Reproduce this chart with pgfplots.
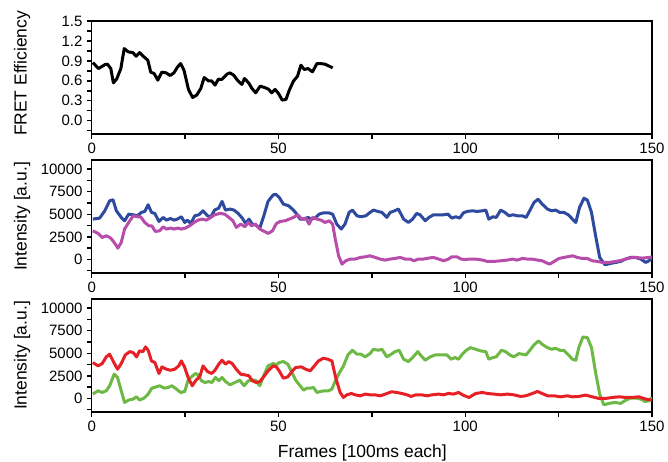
\documentclass[border=0pt]{standalone}
\usepackage{pgfplots}
\pgfplotsset{compat=1.18}
\usepackage{fontspec}
\setmainfont{Liberation Sans}
\definecolor{cblue}{RGB}{46,74,158}
\definecolor{cmag}{RGB}{184,76,170}
\definecolor{cred}{RGB}{230,32,36}
\definecolor{cgreen}{RGB}{110,184,70}
\pgfplotsset{
 panel/.style={
  scale only axis, width=420.2pt, height=84.75pt,
  xmin=0, xmax=150, xtick={0,50,100,150}, minor xtick={25,75,125},
  axis line style={line width=1.1pt},
  tick align=outside, tick pos=left,
  major tick length=3.4pt, minor tick length=3.4pt,
  major tick style={line width=1.1pt, black},
  minor tick style={line width=1.1pt, black},
  tick label style={font=\fontsize{11.25}{13}\selectfont},
  label style={font=\fontsize{13.1}{15}\selectfont},
  scaled ticks=false,
  /pgf/number format/assume math mode=true,
  /pgf/number format/1000 sep={},
  ylabel style={at={(axis description cs:-0.116,0.5)}, anchor=base},
  every axis plot/.append style={line width=2.25pt, line join=round, mark=none},
 },
 intens/.style={panel, ymin=-1500, ymax=11000,
  ytick={0,2500,5000,7500,10000}, minor ytick={-1250,1250,3750,6250,8750},
  ylabel={Intensity [a.u.]}},
}
\begin{document}
\begin{tikzpicture}
\path[use as bounding box] (0,0) rectangle (501pt,345.75pt);
% top
\begin{axis}[panel, at={(68.8pt,245.25pt)}, anchor=south west,
  ymin=-0.2, ymax=1.5, ytick={0,0.3,0.6,0.9,1.2,1.5},
  minor ytick={-0.15,0.15,0.45,0.75,1.05,1.35},
  yticklabel style={/pgf/number format/.cd, fixed, fixed zerofill, precision=1},
  ylabel={FRET Efficiency},
  ylabel style={at={(axis description cs:-0.116,0.535)}}]
\addplot[black] table {
0.3 0.875
1.8 0.785
3.6 0.845
4.2 0.85
5.1 0.785
5.8 0.57
6.7 0.63
7.8 0.785
8.7 1.085
9.8 1.035
11 1.025
11.9 0.97
12.8 1.025
13.8 0.97
15 0.91
15.8 0.73
16.7 0.71
17.7 0.61
18.75 0.73
19.9 0.72
21 0.68
22 0.72
23 0.81
23.8 0.86
24.7 0.76
25.9 0.47
27 0.35
28.1 0.385
29.2 0.485
30.1 0.65
31.25 0.6
32.1 0.6
33 0.535
33.9 0.625
34.8 0.62
36.2 0.7
37 0.72
38 0.685
39 0.61
40.2 0.545
40.9 0.635
42 0.57
42.9 0.485
43.9 0.42
45.1 0.52
46.25 0.5
47.3 0.475
48.2 0.42
49.1 0.47
50 0.41
51 0.31
52 0.32
52.9 0.46
54 0.595
55.1 0.67
56 0.835
56.9 0.77
57.9 0.785
59.1 0.735
60.3 0.86
61.2 0.86
62.5 0.85
64.5 0.795
};
\end{axis}
% middle
\begin{axis}[intens, at={(68.8pt,141pt)}, anchor=south west]
\addplot[cblue] table {
0.3 4460
2.1 4570
3.5 5380
4.8 6490
5.7 6600
6.6 5380
7.9 4650
8.8 4280
9.9 5010
11.1 4940
12.2 4830
13.3 5200
14.2 5310
15.1 6050
16 5200
16.9 5090
18 4200
19.1 4650
20 4350
21.1 4530
22 4350
22.9 4460
24 4720
24.9 4090
25.6 4350
26.5 3980
27.6 4830
28.7 4940
29.8 5380
31 4830
31.9 4720
32.9 5460
34 5680
34.9 6420
35.8 5460
37 5570
38.1 5460
39.2 5090
40.3 4570
41.2 3980
42.1 4460
43 3910
43.8 3830
45 3470
46 4720
47.2 6420
48.6 7150
49.3 7200
50.2 6860
51.3 6120
52.7 5940
54 5460
54.9 5010
55.8 4460
57 4460
57.9 4650
58.7 4460
59.8 4570
60.9 5010
62.1 5160
63.4 5160
64.5 5010
65.6 3910
66.8 3360
67.8 3910
68.9 5200
69.8 5460
71 4830
72.1 4720
73.4 4830
74.5 5200
75.4 5460
76.6 5310
77.7 5200
79 4650
79.9 5200
81.1 5380
82.1 5570
83.5 4460
84.8 4090
85.9 4460
87 5090
87.9 4940
89.3 4280
90.3 4650
91.5 4940
92.9 4940
94.2 4940
95.4 5010
96.4 4570
97.5 4720
98.5 4570
99.5 5150
100.5 5310
101.9 5380
103.2 5310
104.6 5380
105.5 5460
106.3 4460
107.4 4720
108.3 4650
109.5 5460
110.6 5200
111.7 4830
112.8 4940
113.9 4830
115.3 4830
116.3 4650
117.5 5570
118.4 6300
119.5 6670
120.6 6120
122 5570
123.1 5380
124.2 5460
125.3 5200
126.4 5200
127.6 4940
128.7 4460
129.6 4090
130.6 5750
131.8 6780
132.7 6560
133.8 5200
134.9 2620
136 220
137.4 -590
138.9 -440
140.3 -330
141.6 -220
142.9 40
144.3 220
145.6 220
147 40
148.3 -330
149.2 -150
150 150
};
\addplot[cmag] table {
0.3 3170
1.7 2880
2.8 2430
3.9 2620
5.1 2360
6.2 1770
7 1250
7.9 1880
8.8 3360
9.9 4090
11.1 4830
12.2 4720
13.1 4720
14.2 4090
15.3 3720
16.1 3720
17 3100
18.2 3170
19.1 3610
20 3360
21.1 3470
22 3360
23.1 3470
24 3360
25.1 3470
26.2 3720
27.4 4090
28.5 4350
29.5 4460
30.7 4350
31.9 4650
32.9 4940
34.3 5090
35.6 5010
36.7 4650
37.8 4280
38.7 3540
39.9 3910
41 3610
41.9 4090
42.8 3720
43.8 3910
45 3360
46.2 3100
47.3 2880
48.4 3170
49.4 3950
50.4 4200
51.8 4280
52.9 4460
54 4650
55.2 4940
56.2 4460
57.3 4570
58.2 3910
59.1 4650
60.3 4460
61.4 4350
62.5 4090
63.6 4280
64.5 3910
65.2 2250
66.1 400
67 -520
68 -150
69.2 40
70.5 40
71.9 220
73.2 290
74.5 400
75.9 220
77.2 40
78.6 -70
79.9 40
81.2 110
82.6 220
83.9 40
85.3 40
86.2 -150
87.5 40
88.8 40
90.2 150
91.5 220
92.9 40
94.2 -150
95.5 40
96.4 290
97.8 290
98.9 40
100 -20
101 40
102.8 40
104.6 -70
105.9 -220
107.7 -220
109.5 -150
111.3 -70
112.6 40
113.9 -70
115.3 110
116.6 40
117.9 40
119.3 -70
120.6 -150
121.5 -330
122.6 -520
123.8 -220
125.1 110
126.4 220
127.8 330
128.8 400
130 220
131.3 110
132.7 110
134 -150
135.4 -220
136.7 -330
138.5 -330
140.3 -220
142.1 -70
143.8 150
145.6 220
147.4 150
149.2 220
150 290
};
\end{axis}
% bottom
\begin{axis}[intens, at={(68.8pt,36.75pt)}, anchor=south west,
  xlabel={Frames [100ms each]},
  xlabel style={at={(axis description cs:0.483,-0.407)}, anchor=base}]
\addplot[cgreen] table {
0.3 480
1.7 850
2.8 660
3.9 850
4.8 1400
6 2680
6.9 2320
7.9 850
8.8 -440
9.9 -180
11.1 -70
12 180
12.8 -180
14 40
15.1 480
16.1 1140
17.3 1290
18.2 1400
19.4 1140
20.4 1210
21.5 1400
22.7 1030
23.8 660
24.9 770
25.8 2020
26.7 2390
27.8 2760
28.5 2610
29.4 1950
30.3 1760
31.3 1870
32.2 1760
33.1 2320
34 1950
34.9 2320
35.8 1870
37 1510
38.3 1760
39.6 2020
40.8 1400
41.9 1950
43 2020
43.8 2020
45 1400
46.2 2680
47.2 3600
48.6 3860
49.4 3700
50.2 3970
51.3 4080
52.5 3790
53.6 2870
54.6 2020
55.8 1400
56.7 920
57.6 1140
58.5 1140
59.4 1210
60.3 660
61.2 770
62.3 850
63.4 850
64.3 1030
65.2 1950
66.2 2760
67.4 3600
68.6 4820
69.8 5330
71 4890
72.1 4890
73.2 4600
74.5 4960
75.4 5440
76.8 5330
77.7 5440
79 4600
80.2 4890
81.2 5180
82.3 5330
83.5 4340
84.8 4080
85.9 4520
87.3 5180
88.2 4710
89.3 4230
90.6 4600
92 4820
93.3 4820
95.1 4820
96.2 4340
97.3 4520
98.2 4340
99.2 4890
100.3 5330
101.4 5620
102.8 5440
104.1 5260
105.5 5180
106.3 4340
107.4 4520
108.3 4600
109.7 5330
110.8 5180
111.9 4820
113 4600
114.4 4960
115.3 4890
116.3 4820
117.5 5440
118.4 5920
119.6 6360
120.6 5990
122 5620
123.1 5440
124.2 5550
125.3 5330
126.4 5330
127.6 4820
128.7 4340
129.6 4230
130.4 5620
131.5 6800
132.7 6730
133.8 5620
134.9 2870
136 480
137.1 -700
138.5 -550
140.1 -440
141.6 -550
143 -180
144.3 40
145.6 40
147 -70
148.1 -330
149.2 -260
150 110
};
\addplot[cred] table {
0.3 3970
1.7 3600
2.8 3860
3.9 4600
4.8 4890
5.7 4150
6.9 3230
7.9 3860
9 4820
10.2 5180
11.1 5070
12 4600
12.8 5260
13.7 5180
14.4 5700
15.1 5330
16 4150
16.9 3970
18 2760
18.8 3490
20 3230
21.1 3120
22.2 3230
23.3 3600
24 4150
24.9 3420
25.8 2320
26.9 1400
27.8 1950
29 2500
29.8 3600
31 2980
32.1 2760
33 3120
34 3790
34.9 4230
35.8 3790
36.7 4080
37.6 3860
38.7 3230
39.9 2680
41 2610
42.1 2500
43 1950
44.1 1760
45 1870
45.9 2320
47.2 3050
48.6 3600
49.4 3500
50.2 3050
51.3 2240
52.5 2390
53.6 2980
54.6 3420
56.1 3490
57.3 3230
58.5 3050
59.6 3600
60.7 4150
62 4450
63.2 4340
64.3 4150
65.3 2320
66.5 660
67.4 110
68.3 400
69.5 550
70.5 400
71.9 290
73.2 480
74.5 400
75.9 400
77.2 290
78.6 480
80.3 740
81.7 660
83 550
84.4 400
85.5 220
86.8 400
88.4 400
89.7 290
91.1 400
92.9 480
94.2 400
95.5 550
96.9 480
98.2 660
99.5 350
101 110
102.8 550
104.6 660
105.9 550
107.7 480
109.5 400
111.3 480
113 400
114.8 220
116.2 290
118 550
119.3 770
120.6 550
122 290
123.8 290
125.5 180
127.3 290
128.7 180
130.4 220
132.2 370
134 180
135.8 0
137.6 0
139.4 110
141.2 180
143 110
144.7 110
146.5 180
148.3 -70
150 -180
};
\end{axis}
\end{tikzpicture}
\end{document}
